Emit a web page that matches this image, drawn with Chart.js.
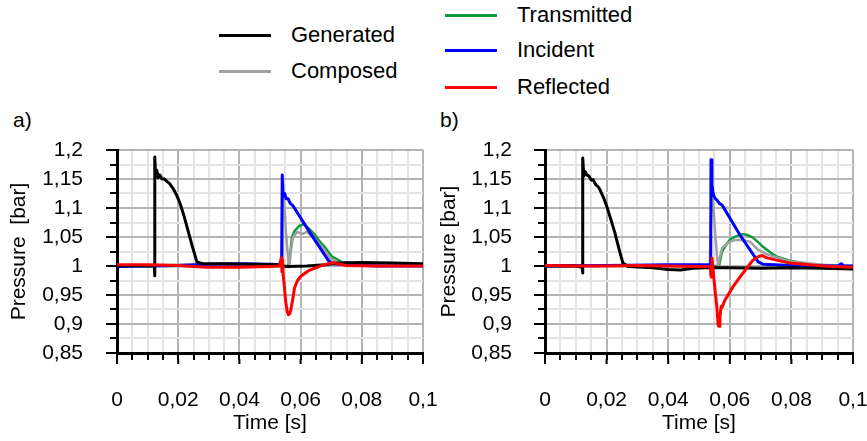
<!DOCTYPE html>
<html>
<head>
<meta charset="utf-8">
<script src="https://cdn.jsdelivr.net/npm/chart.js@4.4.1/dist/chart.umd.min.js"></script>
<style>
  html, body { margin: 0; padding: 0; background: #fff; }
  body { width: 867px; height: 441px; position: relative; overflow: hidden;
         font-family: "Liberation Sans", Arial, sans-serif; color: #000; }
  canvas { position: absolute; }
  .leg { position: absolute; font-size: 22px; line-height: 22px; white-space: nowrap; }
  .leg span { display: inline-block; width: 52px; height: 3px; vertical-align: middle; margin-right: 20px; position: relative; top: -1px; }
  .lbl { position: absolute; font-size: 21px; line-height: 21px; }
</style>
</head>
<body>
<div class="leg" style="left:219px; top:24px;"><span style="background:#000"></span>Generated</div>
<div class="leg" style="left:219px; top:60px;"><span style="background:#a0a0a0"></span>Composed</div>
<div class="leg" style="left:445px; top:4px;"><span style="background:#109a3c"></span>Transmitted</div>
<div class="leg" style="left:445px; top:39px;"><span style="background:#0000ff"></span>Incident</div>
<div class="leg" style="left:445px; top:76px;"><span style="background:#ff0000"></span>Reflected</div>
<div class="lbl" style="left:13px; top:109px;">a)</div>
<div class="lbl" style="left:440px; top:109px;">b)</div>

<canvas id="chartA" width="445" height="311" style="left:0; top:130px;"></canvas>
<canvas id="chartB" width="434" height="311" style="left:433px; top:130px;"></canvas>

<script>
// axis ticks
const xMin = 0, xMax = 0.1, xStep = 0.005, xLabelStep = 0.02;
const yMin = 0.85, yMax = 1.2, yStep = 0.025, yLabelStep = 0.05;

// --- a) ---
const genA_t = [0, 0.005, 0.010, 0.0122, 0.0123, 0.0124, 0.0126, 0.0130, 0.0134, 0.0140, 0.0147, 0.0155, 0.0163, 0.0172, 0.0183, 0.0195, 0.0206, 0.0218, 0.0229, 0.0245, 0.0261, 0.028, 0.035, 0.045, 0.052, 0.0545, 0.056, 0.062, 0.068, 0.072, 0.08, 0.09, 0.1];
const genA_p = [1.0, 1.001, 1.0, 1.0, 0.983, 1.188, 1.155, 1.165, 1.152, 1.157, 1.150, 1.150, 1.146, 1.142, 1.134, 1.122, 1.108, 1.088, 1.067, 1.036, 1.007, 1.004, 1.004, 1.003, 1.002, 1.0, 0.999, 1.0, 1.002, 1.005, 1.006, 1.005, 1.004];

const compA_t = [0, 0.02, 0.03, 0.045, 0.053, 0.054, 0.0541, 0.0546, 0.0552, 0.0558, 0.0563, 0.0568, 0.0575, 0.0585, 0.059, 0.0605, 0.062, 0.064, 0.0673, 0.0696, 0.072, 0.076, 0.085, 0.1];
const compA_p = [1.0, 1.002, 1.003, 1.002, 1.0, 1.0, 1.125, 1.115, 1.06, 1.02, 0.999, 1.025, 1.05, 1.056, 1.059, 1.055, 1.059, 1.05, 1.031, 1.014, 1.007, 1.005, 1.004, 1.002];

const transA_t = [0, 0.054, 0.0559, 0.0566, 0.0572, 0.058, 0.0595, 0.061, 0.0624, 0.0645, 0.0663, 0.068, 0.0703, 0.0735, 0.078, 0.09, 0.1];
const transA_p = [1.0, 1.0, 0.999, 1.02, 1.05, 1.06, 1.069, 1.072, 1.066, 1.055, 1.042, 1.032, 1.016, 1.007, 1.004, 1.002, 1.001];

const incA_t = [0, 0.01, 0.02, 0.03, 0.04, 0.05, 0.0538, 0.0540, 0.0543, 0.0548, 0.0553, 0.0559, 0.0566, 0.0575, 0.063, 0.069, 0.0705, 0.075, 0.085, 0.1];
const incA_p = [0.999, 1.0, 1.001, 1.003, 1.004, 1.003, 1.002, 1.157, 1.12, 1.125, 1.116, 1.116, 1.108, 1.104, 1.058, 1.01, 1.004, 1.002, 1.0, 1.0];

const reflA_t = [0, 0.01, 0.02, 0.025, 0.03, 0.04, 0.05, 0.053, 0.0537, 0.0539, 0.0541, 0.0543, 0.0547, 0.0551, 0.0556, 0.056, 0.0565, 0.057, 0.0575, 0.058, 0.059, 0.06, 0.0615, 0.063, 0.065, 0.067, 0.069, 0.0705, 0.072, 0.075, 0.085, 0.1];
const reflA_p = [1.002, 1.002, 1.001, 0.999, 0.998, 0.998, 0.999, 1.0, 1.014, 0.99, 1.01, 0.985, 0.965, 0.94, 0.922, 0.916, 0.918, 0.93, 0.945, 0.962, 0.975, 0.982, 0.988, 0.993, 0.997, 1.001, 1.004, 1.006, 1.004, 1.001, 1.0, 1.0];

// --- b) ---
const genB_t = [0, 0.01, 0.0121, 0.0122, 0.0123, 0.0126, 0.013, 0.0136, 0.0143, 0.015, 0.0156, 0.0165, 0.0172, 0.0179, 0.019, 0.0201, 0.0214, 0.0227, 0.024, 0.0253, 0.027, 0.035, 0.040, 0.044, 0.048, 0.052, 0.06, 0.07, 0.08, 0.09, 0.1];
const genB_p = [1.0, 1.0, 0.998, 0.988, 1.186, 1.155, 1.163, 1.157, 1.155, 1.148, 1.149, 1.140, 1.137, 1.131, 1.118, 1.102, 1.08, 1.057, 1.03, 1.005, 0.999, 0.997, 0.994, 0.993, 0.996, 0.997, 0.997, 0.996, 0.997, 0.996, 0.995];

const compB_t = [0, 0.05, 0.0535, 0.0541, 0.0546, 0.0552, 0.0558, 0.0562, 0.0568, 0.0575, 0.059, 0.0601, 0.062, 0.064, 0.0665, 0.0692, 0.0721, 0.075, 0.0795, 0.09, 0.1];
const compB_p = [1.0, 1.001, 1.0, 1.12, 1.11, 1.06, 1.02, 1.0, 1.015, 1.031, 1.038, 1.042, 1.045, 1.045, 1.042, 1.028, 1.02, 1.015, 1.008, 1.002, 1.0];

const transB_t = [0, 0.056, 0.0565, 0.0575, 0.059, 0.0601, 0.062, 0.0643, 0.066, 0.0675, 0.069, 0.0708, 0.073, 0.0753, 0.0795, 0.086, 0.095, 0.1];
const transB_p = [1.0, 1.0, 1.0, 1.025, 1.038, 1.046, 1.051, 1.055, 1.053, 1.049, 1.042, 1.033, 1.024, 1.016, 1.009, 1.003, 1.0, 1.0];

const incB_t = [0, 0.02, 0.04, 0.053, 0.0538, 0.0539, 0.0542, 0.0545, 0.0549, 0.0553, 0.0558, 0.0566, 0.0575, 0.063, 0.0692, 0.0708, 0.08, 0.095, 0.0962, 0.097, 0.1];
const incB_p = [1.0, 1.001, 1.002, 1.002, 1.003, 1.183, 1.14, 1.128, 1.12, 1.116, 1.114, 1.108, 1.105, 1.056, 1.007, 1.003, 1.001, 1.0, 1.004, 1.0, 1.0];

const reflB_t = [0, 0.01, 0.02, 0.03, 0.04, 0.05, 0.053, 0.0537, 0.0539, 0.0542, 0.0545, 0.0549, 0.0552, 0.0558, 0.0562, 0.0565, 0.0568, 0.0572, 0.0575, 0.0584, 0.060, 0.061, 0.0643, 0.0675, 0.0692, 0.0705, 0.0721, 0.0795, 0.0903, 0.1];
const reflB_p = [1.001, 1.0, 1.0, 1.001, 1.0, 0.999, 0.999, 0.998, 0.981, 1.014, 0.998, 0.975, 0.959, 0.929, 0.898, 0.896, 0.912, 0.93, 0.929, 0.941, 0.955, 0.964, 0.988, 1.01, 1.016, 1.018, 1.014, 1.005, 1.0, 0.998];

const FONT = { family: '"Liberation Sans", Arial, sans-serif', size: 21 };
const TICK = 7, MAJOR_EXTRA = 4;

function pts(t, p) {
  return t.map((v, i) => ({ x: v, y: p[i] }));
}

function onStep(v, step) {
  const r = v / step;
  return Math.abs(r - Math.round(r)) < 1e-6;
}

function fmt(v) {
  return String(Math.round(v * 1000) / 1000).replace(".", ",");
}

// longer tick marks at the labelled values
const majorTicks = {
  id: "majorTicks",
  afterDraw(chart) {
    const { ctx, scales: { x, y } } = chart;
    ctx.save();
    ctx.strokeStyle = "#000";
    ctx.lineWidth = 2;
    ctx.beginPath();
    x.ticks.forEach(t => {
      if (!onStep(t.value, xLabelStep)) return;
      const px = x.getPixelForValue(t.value);
      ctx.moveTo(px, x.top + TICK - 1);
      ctx.lineTo(px, x.top + TICK + MAJOR_EXTRA);
    });
    y.ticks.forEach(t => {
      if (!onStep(t.value, yLabelStep)) return;
      const py = y.getPixelForValue(t.value);
      ctx.moveTo(y.right - TICK + 1, py);
      ctx.lineTo(y.right - TICK - MAJOR_EXTRA, py);
    });
    ctx.stroke();
    ctx.restore();
  }
};

function makeChart(id, series, yTitle, yWidth, yLabelPad, yTitlePad, padRight) {
  const ds = (label, data, color, w) => ({
    label, data, borderColor: color, backgroundColor: color,
    borderWidth: w, pointRadius: 0, fill: false, tension: 0,
    borderJoinStyle: "round", borderCapStyle: "round"
  });

  // first one is drawn on top
  const datasets = [
    ds("Reflected", series.refl, "#ff0000", 3),
    ds("Generated", series.gen, "#000000", 3),
    ds("Incident", series.inc, "#0000ff", 3),
    ds("Composed", series.comp, "#a0a0a0", 2.5),
    ds("Transmitted", series.trans, "#109a3c", 2.5)
  ];

  return new Chart(document.getElementById(id), {
    type: "line",
    data: { datasets },
    plugins: [majorTicks],
    options: {
      responsive: false,
      animation: false,
      events: [],
      layout: { padding: { top: 20, right: padRight, left: 0, bottom: 0 } },
      plugins: { legend: { display: false }, tooltip: { enabled: false } },
      scales: {
        x: {
          type: "linear", min: xMin, max: xMax,
          afterFit: s => { s.height = 88; s.paddingLeft = 0; s.paddingRight = 0; },
          ticks: {
            stepSize: xStep, autoSkip: false, maxRotation: 0, color: "#000", font: FONT, padding: 28,
            callback: v => onStep(v, xLabelStep) ? fmt(v) : ""
          },
          grid: {
            color: c => onStep(c.tick.value, xLabelStep) ? "#b4b4b4" : "#e4e4e4",
            lineWidth: 2, tickColor: "#000", tickLength: TICK, tickWidth: 2
          },
          border: { color: "#000", width: 3 },
          title: { display: true, text: "Time [s]", color: "#000", font: FONT, padding: { top: 0, bottom: 5 } }
        },
        y: {
          type: "linear", min: yMin, max: yMax,
          afterFit: s => { s.width = yWidth; s.paddingTop = 0; s.paddingBottom = 0; },
          ticks: {
            stepSize: yStep, autoSkip: false, color: "#000", font: FONT, padding: yLabelPad,
            callback: v => onStep(v, yLabelStep) ? fmt(v) : ""
          },
          grid: {
            color: c => onStep(c.tick.value, yLabelStep) ? "#b4b4b4" : "#e4e4e4",
            lineWidth: 2, tickColor: "#000", tickLength: TICK, tickWidth: 2
          },
          border: { color: "#000", width: 3 },
          title: { display: true, text: yTitle, color: "#000", font: FONT, padding: { top: yTitlePad, bottom: 0 } }
        }
      }
    }
  });
}

makeChart("chartA", {
  gen: pts(genA_t, genA_p), comp: pts(compA_t, compA_p), trans: pts(transA_t, transA_p),
  inc: pts(incA_t, incA_p), refl: pts(reflA_t, reflA_p)
}, "Pressure  [bar]", 117, 27, 6.4, 22);

makeChart("chartB", {
  gen: pts(genB_t, genB_p), comp: pts(compB_t, compB_p), trans: pts(transB_t, transB_p),
  inc: pts(incB_t, incB_p), refl: pts(reflB_t, reflB_p)
}, "Pressure [bar]", 112, 26, 3.4, 14);
</script>
</body>
</html>
